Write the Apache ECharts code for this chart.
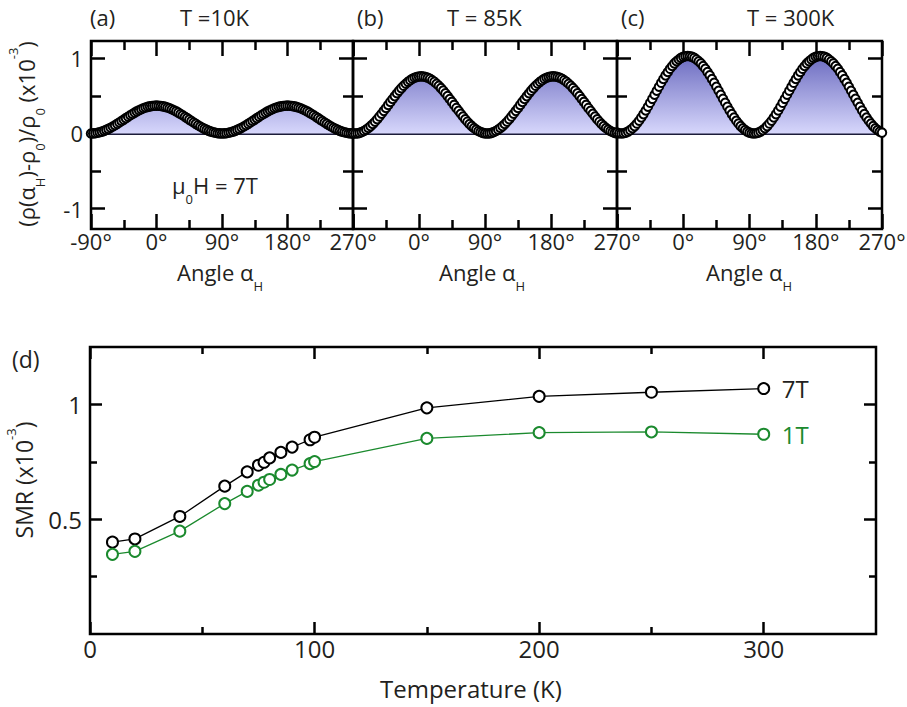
<!DOCTYPE html>
<html><head><meta charset="utf-8">
<script src="https://cdn.jsdelivr.net/npm/echarts@6/dist/echarts.min.js"></script>
<style>html,body{margin:0;padding:0;background:#fff}#c{width:907px;height:707px}</style>
</head><body><div id="c"></div>
<script>
// ---------- data ----------
const angles = [-90,-87,-84,-81,-78,-75,-72,-69,-66,-63,-60,-57,-54,-51,-48,-45,-42,-39,-36,-33,-30,-27,-24,-21,-18,-15,-12,-9,-6,-3,0,3,6,9,12,15,18,21,24,27,30,33,36,39,42,45,48,51,54,57,60,63,66,69,72,75,78,81,84,87,90,93,96,99,102,105,108,111,114,117,120,123,126,129,132,135,138,141,144,147,150,153,156,159,162,165,168,171,174,177,180,183,186,189,192,195,198,201,204,207,210,213,216,219,222,225,228,231,234,237,240,243,246,249,252,255,258,261,264,267,270];

const rho10K = [0,0.001,0.004,0.009,0.016,0.025,0.035,0.048,0.061,0.076,0.093,0.110,0.128,0.147,0.166,0.185,0.204,0.223,0.242,0.260,0.278,0.294,0.309,0.322,0.335,0.345,0.354,0.361,0.366,0.369,0.370,
0.369,0.366,0.361,0.354,0.345,0.335,0.322,0.309,0.294,0.278,0.260,0.242,0.223,0.204,0.185,0.166,0.147,0.128,0.110,0.093,0.076,0.061,0.048,0.035,0.025,0.016,0.009,0.004,0.001,0,
0.001,0.004,0.009,0.016,0.025,0.035,0.048,0.061,0.076,0.093,0.110,0.128,0.147,0.166,0.185,0.204,0.223,0.242,0.260,0.278,0.294,0.309,0.322,0.335,0.345,0.354,0.361,0.366,0.369,0.370,
0.369,0.366,0.361,0.354,0.345,0.335,0.322,0.309,0.294,0.278,0.260,0.242,0.223,0.204,0.185,0.166,0.147,0.128,0.110,0.093,0.076,0.061,0.048,0.035,0.025,0.016,0.009,0.004,0.001,0];

const rho85K = [0.002,
0,0.002,0.008,0.019,0.033,0.051,0.073,0.098,0.126,0.157,0.190,0.225,0.263,0.301,0.340,0.380,0.420,0.459,0.497,0.535,0.570,0.603,0.634,0.662,0.687,0.709,0.727,0.741,0.752,0.758,0.760,
0.758,0.752,0.741,0.727,0.709,0.687,0.662,0.634,0.603,0.570,0.535,0.497,0.459,0.420,0.380,0.340,0.301,0.263,0.225,0.190,0.157,0.126,0.098,0.073,0.051,0.033,0.019,0.008,0.002,0,
0.002,0.008,0.019,0.033,0.051,0.073,0.098,0.126,0.157,0.190,0.225,0.263,0.301,0.340,0.380,0.420,0.459,0.497,0.535,0.570,0.603,0.634,0.662,0.687,0.709,0.727,0.741,0.752,0.758,0.760,
0.758,0.752,0.741,0.727,0.709,0.687,0.662,0.634,0.603,0.570,0.535,0.497,0.459,0.420,0.380,0.340,0.301,0.263,0.225,0.190,0.157,0.126,0.098,0.073,0.051,0.033,0.019,0.008,0.002];

const rho300K = [0.011,0.003,
0,0.003,0.011,0.025,0.045,0.069,0.098,0.132,0.170,0.212,0.258,0.306,0.356,0.408,0.461,0.515,0.569,0.622,0.674,0.724,0.773,0.818,0.860,0.898,0.932,0.961,0.985,1.005,1.019,1.027,1.030,
1.027,1.019,1.005,0.985,0.961,0.932,0.898,0.860,0.818,0.773,0.724,0.674,0.622,0.569,0.515,0.461,0.408,0.356,0.306,0.258,0.212,0.170,0.132,0.098,0.069,0.045,0.025,0.011,0.003,0,
0.003,0.011,0.025,0.045,0.069,0.098,0.132,0.170,0.212,0.258,0.306,0.356,0.408,0.461,0.515,0.569,0.622,0.674,0.724,0.773,0.818,0.860,0.898,0.932,0.961,0.985,1.005,1.019,1.027,1.030,
1.027,1.019,1.005,0.985,0.961,0.932,0.898,0.860,0.818,0.773,0.724,0.674,0.622,0.569,0.515,0.461,0.408,0.356,0.306,0.258,0.212,0.170,0.132,0.098,0.069,0.045,0.025,0.011];

const temps = [10,20,40,60,70,75,77.5,80,85,90,98,100,150,200,250,300];
const smr7T = [0.400,0.414,0.512,0.644,0.706,0.735,0.748,0.767,0.791,0.814,0.846,0.857,0.985,1.035,1.053,1.069];
const smr1T = [0.347,0.360,0.448,0.568,0.621,0.648,0.661,0.673,0.695,0.714,0.742,0.751,0.852,0.877,0.880,0.870];

const angleLabelsA = [-90,0,90,180,270];
const angleLabelsBC = [0,90,180,270];
const angleMajor = [-90,0,90,180,270];
const angleMinor = [-45,45,135,225];
const rhoMajor = [-1,0,1];
const rhoMinor = [-0.5,0.5];
const tempMajor = [0,100,200,300];
const tempMinor = [50,150,250];
const smrMajor = [0.5,1];
const smrMinor = [0.25,0.75];

// ---------- style ----------
const FONT = 'Open Sans';
const TXT = '#231f20';
const GREEN = '#1b8a2e';

const chart = echarts.init(document.getElementById('c'), null, {renderer:'svg'});

const grids = [
  {left:91, top:41, width:262, height:188},
  {left:353, top:41, width:264, height:188},
  {left:617, top:41, width:265, height:188},
  {left:90, top:347, width:786, height:287}
].map(g => Object.assign(g, {show:true, borderColor:'#000', borderWidth:2.5, backgroundColor:'transparent', containLabel:false, outerBoundsMode:'none'}));

const xAxes = [], yAxes = [];
function addAxes(list, gi, pos, opp, min, max, major, minor, labelVals, fmt, majLen, minLen, fontSize, margin) {
  const base = {gridIndex:gi, type:'value', min, max, splitLine:{show:false}, axisLine:{show:false, onZero:false}, silent:true, axisPointer:{show:false}};
  const tick = (vals, len) => ({show:true, inside:true, length:len, customValues:vals, lineStyle:{color:'#000', width:2.5}});
  list.push(Object.assign({}, base, {position:pos, axisTick:tick(major, majLen),
    axisLabel:{show:true, customValues:labelVals, formatter:fmt, color:TXT, fontFamily:FONT, fontSize, margin}}));
  list.push(Object.assign({}, base, {position:opp, axisTick:tick(major, majLen), axisLabel:{show:false}}));
  list.push(Object.assign({}, base, {position:pos, axisTick:tick(minor, minLen), axisLabel:{show:false}}));
  list.push(Object.assign({}, base, {position:opp, axisTick:tick(minor, minLen), axisLabel:{show:false}}));
}
const degFmt = v => v + '°';
[0,1,2].forEach(gi => {
  addAxes(xAxes, gi, 'bottom', 'top', -90, 270, angleMajor, angleMinor, gi === 0 ? angleLabelsA : angleLabelsBC, degFmt, 15, 9, 22, 1);
  addAxes(yAxes, gi, 'left', 'right', -1.27, 1.23, rhoMajor, rhoMinor, gi === 0 ? rhoMajor : [], v => String(v), 14, 10, 22, 8);
});
addAxes(xAxes, 3, 'bottom', 'top', 0, 350, tempMajor, tempMinor, tempMajor, v => String(v), 12, 7, 24, 2);
addAxes(yAxes, 3, 'left', 'right', 0, 1.25, smrMajor, smrMinor, smrMajor, v => String(v), 12, 7, 24, 8);

const fillGrad = new echarts.graphic.LinearGradient(0, 56, 0, 133, [
  {offset:0, color:'#6c6cc0'}, {offset:1, color:'#d6d6fb'}], true);

function angleSeries(gi, vals) {
  return {
    type:'line', xAxisIndex:gi*4, yAxisIndex:gi*4,
    data: angles.map((a, i) => [a, vals[i]]),
    symbol:'circle', symbolSize:8.5, showSymbol:true, showAllSymbol:true,
    lineStyle:{width:0, opacity:0},
    itemStyle:{color:'#fff', borderColor:'#000', borderWidth:2},
    areaStyle:{color:fillGrad, opacity:1},
    emphasis:{disabled:true}, z:3, animation:false, clip:false,
    markLine:{silent:true, symbol:['none','none'], label:{show:false}, animation:false, z:2,
      lineStyle:{color:'#1c1c3a', width:2, type:'solid'}, data:[{yAxis:0}]}
  };
}
function tempSeries(vals, color, label) {
  return {
    type:'line', xAxisIndex:12, yAxisIndex:12,
    data: temps.map((t, i) => [t, vals[i]]),
    symbol:'circle', symbolSize:11, showSymbol:true,
    lineStyle:{color, width:1.3},
    itemStyle:{color:'#fff', borderColor:color, borderWidth:2},
    emphasis:{disabled:true}, animation:false,
    endLabel:{show:true, formatter:label, color: color === '#000' ? TXT : color, fontFamily:FONT, fontSize:24, distance:18}
  };
}

const base = {fontFamily:FONT, fill:TXT};
const richStyles = {
  n: Object.assign({fontSize:22, lineHeight:40}, base),
  s: Object.assign({fontSize:13, lineHeight:13, verticalAlign:'bottom'}, base),
  p: Object.assign({fontSize:13, lineHeight:20, verticalAlign:'top'}, base)
};
function txt(x, y, text, opts) {
  return {type:'text', x, y, silent:true, style:Object.assign({text, fontFamily:FONT, fontSize:22, fill:TXT, align:'left', verticalAlign:'middle'}, opts || {})};
}
function rtxt(x, y, text, rot, align, size) {
  const rich = JSON.parse(JSON.stringify(richStyles));
  if (size) { rich.n.fontSize = size; }
  return {type:'text', x, y, rotation: rot || 0, silent:true,
    style:{text, rich, fontFamily:FONT, fontSize:22, fill:TXT, align: align || 'left', verticalAlign:'middle'}};
}

const graphics = [
  txt(90, 17, '(a)'), txt(180, 17, 'T =10K'),
  txt(357, 17, '(b)'), txt(447, 17, 'T = 85K'),
  txt(621, 17, '(c)'), txt(747, 17, 'T = 300K'),
  rtxt(177, 272, '{n|Angle α}{s|H}'),
  rtxt(439, 272, '{n|Angle α}{s|H}'),
  rtxt(706, 272, '{n|Angle α}{s|H}'),
  rtxt(172, 185, '{n|μ}{s|0}{n|H = 7T}'),
  rtxt(26, 134, '{n|(ρ(α}{s|H}{n|)-ρ}{s|0}{n|)/ρ}{s|0}{n| (x10}{p|-3}{n|)}', Math.PI/2, 'center'),
  txt(12, 359, '(d)', {fontSize:23}),
  txt(380, 688, 'Temperature (K)', {fontSize:24}),
  rtxt(24, 480, '{n|SMR (x10}{p|-3}{n|)}', Math.PI/2, 'center', 23)
];

chart.setOption({
  animation:false,
  backgroundColor:'#fff',
  grid: grids,
  xAxis: xAxes,
  yAxis: yAxes,
  series: [
    angleSeries(0, rho10K), angleSeries(1, rho85K), angleSeries(2, rho300K),
    tempSeries(smr7T, '#000', '7T'), tempSeries(smr1T, GREEN, '1T')
  ],
  graphic: graphics
});
</script></body></html>
